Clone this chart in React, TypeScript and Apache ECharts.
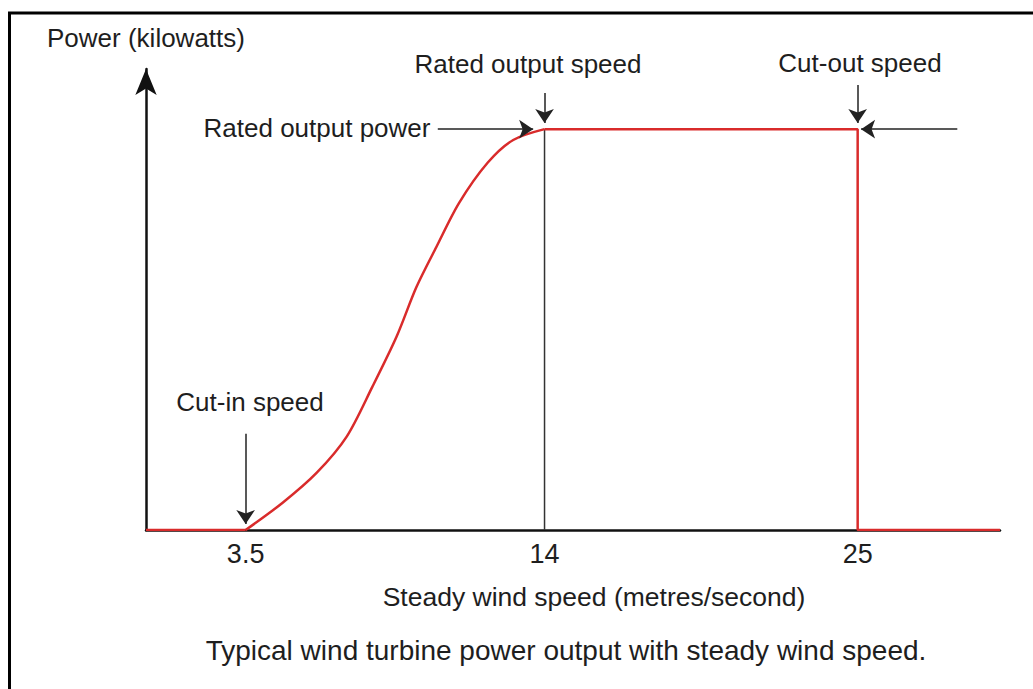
import React, { useEffect, useRef } from "react";
import * as echarts from "echarts";

// Wind speed (m/s) and power (% of rated output)
const windSpeed = [0, 3.5, 4.8, 6.0, 7.05, 7.95, 8.8, 9.5, 10.2, 11.0, 12.0, 12.9, 14, 25, 25, 30];
const powerOutput = [0, 0, 6.8, 14.3, 23.3, 35.7, 48.2, 60.6, 70.6, 81.6, 91.6, 97.3, 100, 100, 0, 0];
const tickValues = [3.5, 14, 25];
const cutInSpeed = 3.5;
const ratedSpeed = 14;
const cutOutSpeed = 25;
const ratedPower = 100;

const FONT = "'Liberation Sans', Arial, Helvetica, sans-serif";
const TXT = "#1e1e1e";
const RED = "#d92b2b";

export default function App() {
  const ref = useRef<HTMLDivElement>(null);
  useEffect(() => {
    if (!ref.current) return;
    const chart = echarts.init(ref.current, null, { renderer: "svg" });
    const pts = windSpeed.map((x, i) => [x, powerOutput[i]]);
    const iStart = windSpeed.indexOf(cutInSpeed);
    const iRated = windSpeed.indexOf(ratedSpeed);
    const rising = pts.slice(iStart, iRated + 1);
    const before = pts.slice(0, iStart + 1);
    const after = pts.slice(iRated);
    const arrowLine = (a: number[], b: number[]) => [{ coord: a }, { coord: b }];
    const txt = (text: string, x: number, y: number, size = 26) => ({
      type: "text",
      x,
      y,
      silent: true,
      style: { text, fontSize: size, fill: TXT, fontFamily: FONT, textAlign: "center", textVerticalAlign: "middle" },
    });
    chart.setOption({
      animation: false,
      backgroundColor: "#ffffff",
      textStyle: { fontFamily: FONT },
      grid: { left: 146, right: 33, top: 69, bottom: 159 },
      xAxis: {
        type: "value",
        min: 0,
        max: 30,
        axisLine: { show: true, onZero: false, lineStyle: { color: "#111", width: 2.5 } },
        axisTick: { show: false },
        splitLine: { show: false },
        axisLabel: {
          customValues: tickValues,
          fontSize: 27,
          color: TXT,
          margin: 10,
          fontFamily: FONT,
          formatter: (v: number) => String(v),
        },
      },
      yAxis: {
        type: "value",
        min: 0,
        max: 115,
        name: "Power (kilowatts)",
        nameLocation: "end",
        nameGap: 18,
        nameTextStyle: { fontSize: 26, color: TXT, fontFamily: FONT },
        axisLine: {
          show: true,
          symbol: ["none", "arrow"],
          symbolSize: [16, 26],
          lineStyle: { color: "#111", width: 2.5 },
        },
        axisTick: { show: false },
        axisLabel: { show: false },
        splitLine: { show: false },
      },
      series: [
        {
          type: "line",
          data: [
            [ratedSpeed, 0],
            [ratedSpeed, ratedPower],
          ],
          showSymbol: false,
          silent: true,
          z: 1,
          lineStyle: { color: "#333", width: 1.5 },
        },
        {
          type: "line",
          data: before,
          showSymbol: false,
          silent: true,
          z: 3,
          lineStyle: { color: RED, width: 2.5 },
        },
        {
          type: "line",
          data: after,
          showSymbol: false,
          silent: true,
          z: 3,
          lineStyle: { color: RED, width: 2.5 },
        },
        {
          type: "line",
          data: rising,
          showSymbol: false,
          smooth: 0.3,
          z: 3,
          lineStyle: { color: RED, width: 2.5 },
          markLine: {
            silent: true,
            symbol: ["none", "arrow"],
            symbolSize: 14,
            label: { show: false },
            lineStyle: { color: "#222", width: 1.5, type: "solid" },
            data: [
              arrowLine([cutInSpeed, 24], [cutInSpeed, 1.5]),
              arrowLine([ratedSpeed, 109], [ratedSpeed, ratedPower + 1.5]),
              arrowLine([10.25, ratedPower], [13.6, ratedPower]),
              arrowLine([cutOutSpeed, 111], [cutOutSpeed, ratedPower + 1.5]),
              arrowLine([28.5, ratedPower], [cutOutSpeed + 0.12, ratedPower]),
            ],
          },
        },
      ],
      graphic: [
        {
          type: "rect",
          shape: { x: 9.5, y: 13, width: 1200, height: 900 },
          style: { fill: "none", stroke: "#000", lineWidth: 3 },
          silent: true,
        },
        txt("Rated output speed", 528, 64),
        txt("Cut-out speed", 860, 63),
        txt("Rated output power", 317, 128),
        txt("Cut-in speed", 250, 402),
        txt("Steady wind speed (metres/second)", 594, 597, 26.5),
        txt("Typical wind turbine power output with steady wind speed.", 566, 650, 28),
      ],
    });
    return () => chart.dispose();
  }, []);
  return <div ref={ref} style={{ width: 1033, height: 689, position: "absolute", left: 0, top: 0 }} />;
}
